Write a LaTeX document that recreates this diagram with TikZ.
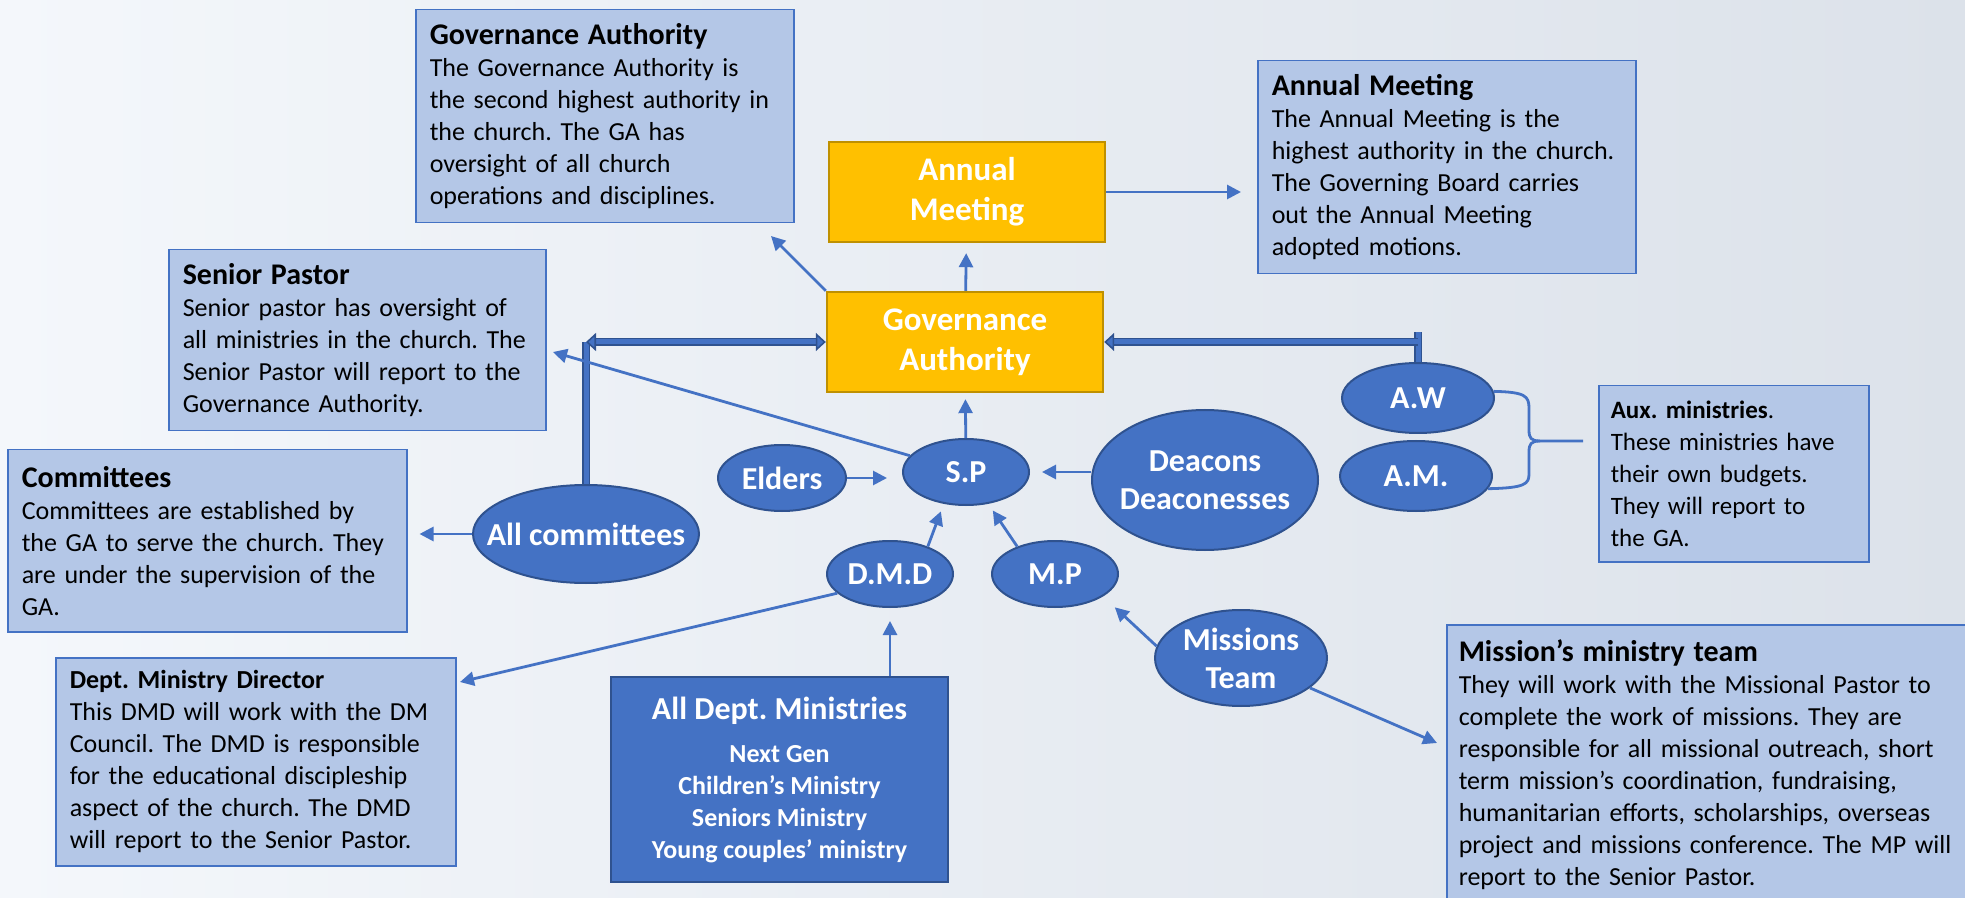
\documentclass[tikz,border=0pt]{standalone}
\usepackage{fontspec}
\setmainfont{Carlito}
\usetikzlibrary{arrows.meta,%
	shapes.geometric}
\frenchspacing

\definecolor{bgA}{HTML}{F4F7FB}
\definecolor{bgB}{HTML}{DCE2EA}
\definecolor{boxfill}{HTML}{B4C7E7}
\definecolor{boxline}{HTML}{4472C4}
\definecolor{gold}{HTML}{FFC000}
\definecolor{goldline}{HTML}{BF9000}
\definecolor{blueA}{HTML}{4472C4}
\definecolor{blueB}{HTML}{2F528F}

\newcommand{\bodysize}{\fontsize{13}{16}\selectfont}
\newcommand{\headsize}{\fontsize{15}{16}\selectfont\bfseries}

\tikzset{
	info/.style={draw=boxline, fill=boxfill, line width=0.75pt, anchor=north west, align=left, inner xsep=7pt, inner ysep=0pt, font=\bodysize},
	body/.style={draw=goldline, fill=gold, line width=1.2pt, minimum width=138pt, minimum height=50pt, align=center, text=white, font=\fontsize{16.5}{20}\selectfont\bfseries},
	role/.style={ellipse, draw=blueB, fill=blueA, line width=1pt, inner xsep=-20pt, inner ysep=0pt, align=center, text=white, font=\fontsize{16}{19}\selectfont\bfseries},
	link/.style={draw=blueA, line width=1.4pt},
	arr/.style={link, -{Triangle[length=7pt,width=7pt]}},
	dbl/.style={draw=blueB, double=blueA, line width=0.8pt, double distance=2.5pt},
	Dtip/.tip={Triangle[length=5pt,width=9pt,fill=blueA]}
}

\begin{document}
\begin{tikzpicture}[x=0.5pt,y=-0.5pt]
	\useasboundingbox (0,0) rectangle (1965,898);
	\shade[left color=bgA, right color=bgB] (0,0) rectangle (1965,898);

	% text boxes
	\node[info, text width=175pt, minimum height=106.5pt] (tGA) at (415,9) {{\headsize Governance Authority}\\The Governance Authority is\\the second highest authority in\\the church. The GA has\\oversight of all church\\operations and disciplines.};
	\node[info, text width=175pt, minimum height=106.5pt] (tAM) at (1257,60) {{\headsize Annual Meeting}\\The Annual Meeting is the\\highest authority in the church.\\The Governing Board carries\\out the Annual Meeting\\adopted motions.};
	\node[info, text width=174.5pt, minimum height=90.5pt] (tSP) at (168,249) {{\headsize Senior Pastor}\\Senior pastor has oversight of\\all ministries in the church. The\\Senior Pastor will report to the\\Governance Authority.};
	\node[info, text width=185.5pt, minimum height=91pt] (tCOM) at (7,449) {{\headsize Committees}\\Committees are established by\\the GA to serve the church. They\\are under the supervision of the\\GA.};
	\node[info, text width=186pt, minimum height=104pt] (tDMD) at (55,657) {\textbf{Dept. Ministry Director}\\This DMD will work with the DM\\Council. The DMD is responsible\\for the educational discipleship\\aspect of the church. The DMD\\will report to the Senior Pastor.};
	\node[info, inner xsep=6pt, text width=123pt, minimum height=88pt, font=\fontsize{12.5}{16}\selectfont] (tAUX) at (1598,385) {\textbf{Aux. ministries}.\\These ministries have\\their own budgets.\\They will report to\\the GA.};
	\node[info, inner xsep=6pt, text width=248pt, minimum height=140pt] (tMIS) at (1446,624) {{\headsize Mission’s ministry team}\\They will work with the Missional Pastor to\\complete the work of missions. They are\\responsible for all missional outreach, short\\term mission’s coordination, fundraising,\\humanitarian efforts, scholarships, overseas\\project and missions conference. The MP will\\report to the Senior Pastor.};

	\node[body] (AM) at (967,192) {Annual\\Meeting};
	\node[body] (GA) at (965,342) {Governance\\Authority};

	\node[role, minimum width=113pt, minimum height=49pt] (AC) at (586,534) {All committees};
	\node[role, minimum width=64pt, minimum height=33pt] (EL) at (782,478) {Elders};
	\node[role, minimum width=63pt, minimum height=33pt] (SP) at (966,472) {S.P};
	\node[role, minimum width=113pt, minimum height=70pt] (DC) at (1205,480) {Deacons\\Deaconesses};
	\node[role, minimum width=63pt, minimum height=33pt] (DMD) at (890,574) {D.M.D};
	\node[role, minimum width=63pt, minimum height=33pt] (MP) at (1055,574) {M.P};
	\node[role, minimum width=86pt, minimum height=48pt] (MT) at (1241,658) {Missions\\Team};
	\node[role, minimum width=76pt, minimum height=35pt] (AW) at (1418,398) {A.W};
	\node[role, minimum width=76pt, minimum height=35pt] (AX) at (1416,476) {A.M.};

	\node[draw=blueB, fill=blueA, line width=1pt, minimum width=168.5pt, minimum height=102.5pt, align=center, text=white, font=\fontsize{13}{16}\selectfont\bfseries] (AD) at (779.5,779.5) {{\fontsize{16}{19}\selectfont All Dept. Ministries}\\[5.5pt]Next Gen\\Children’s Ministry\\Seniors Ministry\\Young couples’ ministry};

	\coordinate (gaTip) at (771,236);
	\coordinate (acTop) at (AC.north |- GA.west);
	\coordinate (awTop) at (AW.north |- GA.east);
	\coordinate (awTick) at ([yshift=5pt]awTop);
	\coordinate (spTip) at (553,352);
	\coordinate (dmdTip) at (460,682);
	\coordinate (misTip) at (1437,743);
	\coordinate (braceTip) at (1583,441);

	% links
	\draw[arr,shorten >=5pt] (GA) -- (AM);
	\draw[arr] (GA.north west) -- (gaTip);
	\draw[arr,shorten >=8pt] (AM.east) -- (AM.east -| tAM.west);
	\draw[dbl] (AC.north) -- (acTop);
	\draw[dbl,{Dtip}-{Dtip}] (acTop) -- (GA.west);
	\draw[dbl] (AW.north) -- (awTick);
	\draw[dbl,-{Dtip}] (awTop) -- (GA.east);
	\draw[arr,shorten >=6pt] (AC.west) -- (AC.west -| tCOM.east);
	\draw[arr] (SP) -- (spTip);
	\draw[arr,shorten >=3pt] (SP) -- (GA);
	\draw[arr,shorten >=7.5pt] (EL.east) -- (EL.east -| SP.west);
	\draw[arr,shorten >=6pt] (DC.west |- SP.east) -- (SP.east);
	\draw[arr,shorten >=4pt] (DMD.36) -- (SP.235);
	\draw[arr,shorten >=4pt] (MP.144) -- (SP.305);
	\draw[arr] (DMD.200) -- (dmdTip);
	\draw[arr,shorten >=6.5pt] (AD.north -| DMD) -- (DMD.south);
	\draw[arr,shorten >=8pt] (MT.172) -- (MP.335);
	\draw[arr] (MT) -- (misTip);
	%\draw[arr] (AX) -- (tAUX);
	\draw[link] (AW.5) .. controls (1525,392) and (1529,396) .. (1529,408) -- (1529,430) .. controls (1529,438) and (1531,441) .. (1540,441) -- (braceTip);
	\draw[link] (AX.-10) .. controls (1525,488) and (1529,484) .. (1529,474) -- (1529,452) .. controls (1529,444) and (1531,441) .. (1540,441);
\end{tikzpicture}
\end{document}
